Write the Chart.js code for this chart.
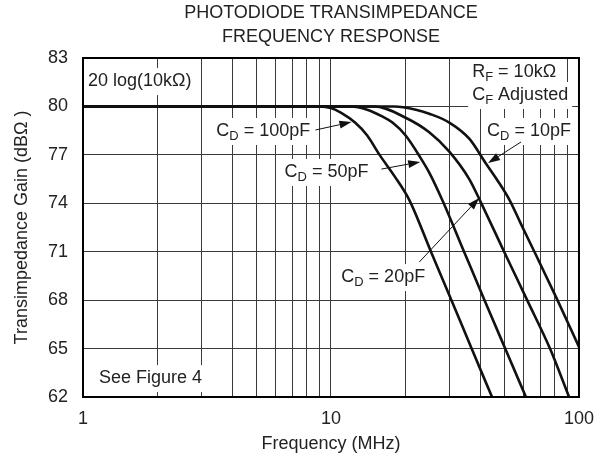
<!DOCTYPE html>
<html>
<head>
<meta charset="utf-8">
<script src="https://cdn.jsdelivr.net/npm/chart.js@4.4.0/dist/chart.umd.min.js"></script>
<style>
  html, body { margin: 0; padding: 0; background: #fff; }
  #wrap { width: 605px; height: 463px; }
</style>
</head>
<body>
<div id="wrap"><canvas id="grafica"></canvas></div>
<script>
// values (frequency in MHz, gain in dBΩ)
const freq100 = [1, 9, 10, 11, 12.5, 14, 15.7, 18, 20.7, 25.3, 30.6, 36.9, 44.6];
const gain100 = [80, 80, 79.9, 79.6, 79.0, 78.2, 77.0, 75.7, 74.2, 71, 68, 65, 62];

const freq50 = [1, 12, 14, 16, 17.7, 20, 23, 24.9, 28.1, 34.4, 41.6, 50.4, 61.1];
const gain50 = [80, 80, 79.8, 79.4, 79.0, 78.2, 76.8, 75.9, 74.2, 71, 68, 65, 62];

const freq20 = [1, 15, 20, 24.9, 30, 36.1, 39.8, 49.9, 61.8, 76.4, 91.2];
const gain20 = [80, 80, 79.3, 78.4, 77.2, 75.5, 74.2, 71, 68, 65, 62];

const freq10 = [1, 18, 22, 24.9, 30, 36.1, 42, 47, 52.5, 58, 66.1, 81.9, 100];
const gain10 = [80, 80, 79.8, 79.55, 79.0, 78.0, 76.5, 75.4, 74.2, 72.8, 71, 68, 65.1];

const yTicks = [62, 65, 68, 71, 74, 77, 80, 83];
const xTicks = [1, 2, 3, 4, 5, 6, 7, 8, 9, 10, 20, 30, 40, 50, 60, 70, 80, 90, 100];
const xLabels = [1, 10, 100];

const FONT = "'Liberation Sans', Arial, Helvetica, sans-serif";
const TXT = '#222';
const SIZE = 18;

// text notes, placed in data coords (left edge, vertical centre)
const notas = [
  { parts: [['20 log(10kΩ)']], f: 1.047, g: 81.57 },
  { parts: [['R'], ['F', 1], [' = 10kΩ']], f: 37.1, g: 82.13 },
  { parts: [['C'], ['F', 1], [' Adjusted']], f: 37.1, g: 80.71 },
  { parts: [['C'], ['D', 1], [' = 10pF']], f: 42.6, g: 78.48 },
  { parts: [['C'], ['D', 1], [' = 100pF']], f: 3.45, g: 78.48 },
  { parts: [['C'], ['D', 1], [' = 50pF']], f: 6.5, g: 75.94 },
  { parts: [['C'], ['D', 1], [' = 20pF']], f: 11.0, g: 69.43 },
  { parts: [['See Figure 4']], f: 1.16, g: 63.17 }
];

const flechas = [
  { from: [8.66, 78.54], to: [12.09, 79.03] },
  { from: [15.97, 76.12], to: [22.9, 76.56] },
  { from: [58.4, 77.8], to: [43.0, 76.49] },
  { from: [22.7, 70.36], to: [39.6, 74.33] }
];

function pares(xs, ys) {
  return xs.map((x, i) => ({ x: x, y: ys[i] }));
}

function curva(label, xs, ys) {
  return {
    label: label,
    data: pares(xs, ys),
    borderColor: '#111',
    borderWidth: 2.6,
    pointRadius: 0,
    fill: false,
    cubicInterpolationMode: 'monotone'
  };
}

function anchoTexto(ctx, parts) {
  let w = 0;
  parts.forEach(p => {
    ctx.font = (p[1] ? SIZE * 0.72 : SIZE) + 'px ' + FONT;
    w += ctx.measureText(p[0]).width;
  });
  return w;
}

function dibujaTexto(ctx, parts, x, y) {
  let cx = x;
  parts.forEach(p => {
    const sub = p[1];
    ctx.font = (sub ? SIZE * 0.72 : SIZE) + 'px ' + FONT;
    ctx.fillText(p[0], cx, sub ? y + SIZE * 0.32 : y);
    cx += ctx.measureText(p[0]).width;
  });
}

const notasPlugin = {
  id: 'notas',
  beforeDatasetsDraw(chart) {
    const ctx = chart.ctx;
    const sx = chart.scales.x, sy = chart.scales.y;
    ctx.save();
    ctx.textBaseline = 'middle';
    ctx.textAlign = 'left';
    notas.forEach(n => {
      const x = sx.getPixelForValue(n.f);
      const y = sy.getPixelForValue(n.g);
      const w = anchoTexto(ctx, n.parts);
      ctx.fillStyle = '#fff';
      ctx.fillRect(x - 4, y - 13, w + 8, 27);
      ctx.fillStyle = TXT;
      dibujaTexto(ctx, n.parts, x, y);
    });
    ctx.restore();
  },
  afterDatasetsDraw(chart) {
    const ctx = chart.ctx;
    const sx = chart.scales.x, sy = chart.scales.y;
    const a = chart.chartArea;
    ctx.save();
    // arrows
    ctx.strokeStyle = '#111';
    ctx.fillStyle = '#111';
    ctx.lineWidth = 1;
    flechas.forEach(fl => {
      const x0 = sx.getPixelForValue(fl.from[0]), y0 = sy.getPixelForValue(fl.from[1]);
      const x1 = sx.getPixelForValue(fl.to[0]), y1 = sy.getPixelForValue(fl.to[1]);
      const ang = Math.atan2(y1 - y0, x1 - x0);
      const L = 12, W = 4;
      const bx = x1 - L * Math.cos(ang), by = y1 - L * Math.sin(ang);
      ctx.beginPath();
      ctx.moveTo(x0, y0);
      ctx.lineTo(bx, by);
      ctx.stroke();
      ctx.beginPath();
      ctx.moveTo(x1, y1);
      ctx.lineTo(bx + W * Math.sin(ang), by - W * Math.cos(ang));
      ctx.lineTo(bx - W * Math.sin(ang), by + W * Math.cos(ang));
      ctx.closePath();
      ctx.fill();
    });
    // frame
    ctx.strokeStyle = '#000';
    ctx.lineWidth = 2;
    ctx.strokeRect(a.left, a.top, a.right - a.left, a.bottom - a.top);
    ctx.restore();
  }
};

const grafica = document.getElementById('grafica');

new Chart(grafica, {
  type: 'line',
  data: {
    datasets: [
      curva('CD = 100pF', freq100, gain100),
      curva('CD = 50pF', freq50, gain50),
      curva('CD = 20pF', freq20, gain20),
      curva('CD = 10pF', freq10, gain10)
    ]
  },
  options: {
    responsive: true,
    maintainAspectRatio: false,
    animation: false,
    layout: { padding: { top: 0, right: 25, left: 0, bottom: 0 } },
    scales: {
      x: {
        type: 'logarithmic',
        min: 1,
        max: 100,
        afterBuildTicks: s => { s.ticks = xTicks.map(v => ({ value: v })); },
        afterFit: s => { s.height = 66; },
        ticks: {
          autoSkip: false,
          maxRotation: 0,
          padding: 11,
          color: TXT,
          font: { family: FONT, size: SIZE },
          callback: v => xLabels.includes(v) ? String(v) : ''
        },
        grid: { color: '#3a3a3a', lineWidth: 1, drawTicks: false },
        border: { color: '#000', width: 2 },
        title: {
          display: true,
          text: 'Frequency (MHz)',
          color: TXT,
          font: { family: FONT, size: SIZE },
          padding: { top: 0, bottom: 8 }
        }
      },
      y: {
        min: 62,
        max: 83,
        afterBuildTicks: s => { s.ticks = yTicks.map(v => ({ value: v })); },
        afterFit: s => { s.width = 83; },
        ticks: {
          padding: 15,
          color: TXT,
          font: { family: FONT, size: SIZE }
        },
        grid: { color: '#3a3a3a', lineWidth: 1, drawTicks: false },
        border: { color: '#000', width: 2 },
        title: {
          display: true,
          text: 'Transimpedance Gain (dBΩ )',
          color: TXT,
          font: { family: FONT, size: SIZE },
          padding: { top: 11, bottom: 0 }
        }
      }
    },
    plugins: {
      legend: { display: false },
      tooltip: { enabled: false },
      title: {
        display: true,
        fullSize: false,
        text: ['PHOTODIODE TRANSIMPEDANCE', 'FREQUENCY RESPONSE'],
        color: TXT,
        font: { family: FONT, size: SIZE, weight: 'normal', lineHeight: 24 / SIZE },
        padding: { top: 1, bottom: 9 }
      }
    }
  },
  plugins: [notasPlugin]
});
</script>
</body>
</html>
